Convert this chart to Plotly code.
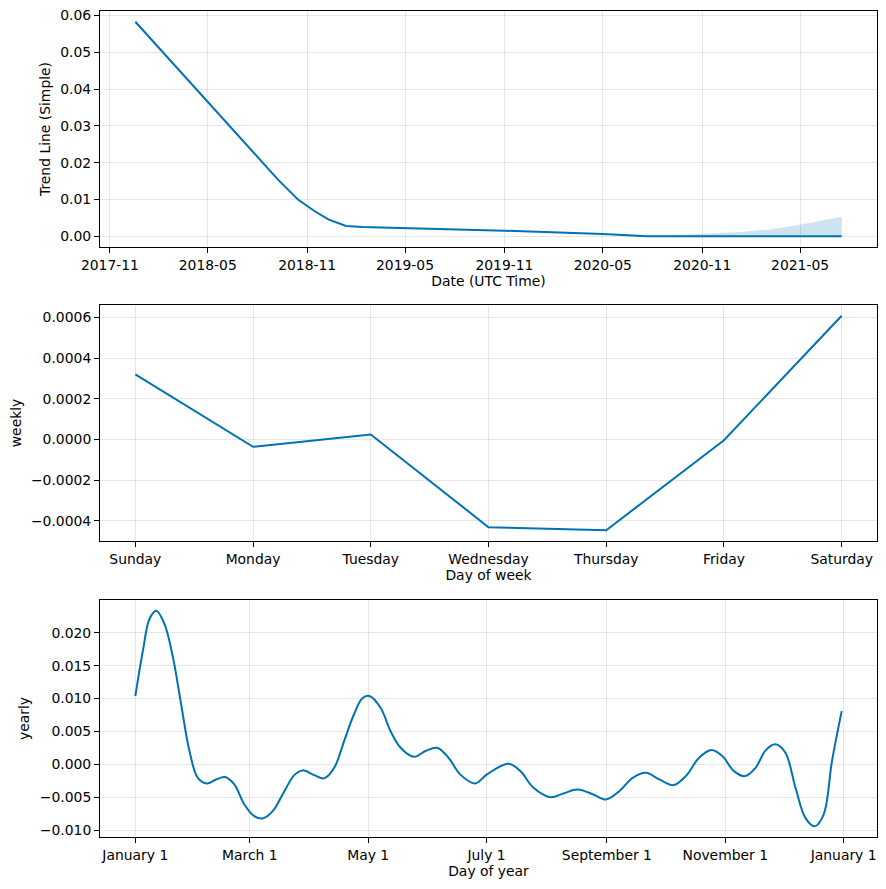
import pandas as pd
import plotly.graph_objects as go
from plotly.subplots import make_subplots

# ---------------- data ----------------
trend_dates = ["2017-12-18", "2018-09-08", "2018-10-15", "2018-11-15", "2018-12-11",
               "2019-01-12", "2019-02-11", "2019-05-01", "2019-11-01", "2020-05-01",
               "2020-07-23", "2021-07-17"]
trend_values = [0.0583, 0.0154, 0.0100, 0.0068, 0.0045,
                0.0028, 0.0025, 0.0022, 0.0015, 0.0006,
                0.0000, 0.0000]

band_dates = ["2020-07-23", "2020-11-01", "2021-01-04", "2021-03-04", "2021-05-01", "2021-07-17"]
band_upper = [0.0000, 0.00065, 0.0011, 0.0018, 0.0031, 0.0053]
band_lower = [0.0000, 0.0000, 0.0000, 0.0000, 0.0000, 0.0000]

weekdays = ["Sunday", "Monday", "Tuesday", "Wednesday", "Thursday", "Friday", "Saturday"]
weekly_values = [0.000320, -0.000036, 0.0000245, -0.000431, -0.000446, -0.000004, 0.000608]

year_days = [0, 3.9, 7.3, 10.8, 15.1, 19.4, 23.6, 27.9, 32.2, 36.9, 41.6, 46.2, 51.0,
             56.2, 61.3, 65.6, 70.8, 76.8, 81.9, 86.2, 92.2, 97.3, 102.5, 107.6, 112.7,
             117.0, 120.6, 126.4, 131.5, 136.7, 143.5, 149.5, 155.5, 161.4, 167.4, 175.1,
             181.2, 192.3, 198.4, 205.2, 213.8, 220.6, 227.8, 236.0, 242.5, 249.4, 256.3,
             263.1, 270.0, 277.3, 283.7, 290.5, 297.0, 302.5, 308.5, 314.1, 319.6, 324.8,
             329.9, 335.0, 340.2, 345.3, 350.1, 354.7, 359.0, 364]
yearly_values = [0.0104, 0.01725, 0.0221, 0.02335, 0.0213, 0.01624, 0.00914, 0.00203,
                 -0.00204, -0.0029, -0.00229, -0.00193, -0.00305, -0.00609, -0.00787,
                 -0.00822, -0.00711, -0.00407, -0.00163, -0.00091, -0.00163, -0.00213,
                 -0.00052, 0.00355, 0.00762, 0.01005, 0.0104, 0.00862, 0.00507, 0.00253,
                 0.00116, 0.00203, 0.00253, 0.00101, -0.00152, -0.0029, -0.00152, 0.0001,
                 -0.00102, -0.00356, -0.00498, -0.00442, -0.00381, -0.00457, -0.00533,
                 -0.00407, -0.00204, -0.00128, -0.00229, -0.00315, -0.00178, 0.00101,
                 0.00218, 0.00126, -0.00102, -0.00178, -0.00052, 0.00213, 0.00305,
                 0.00177, -0.00356, -0.00813, -0.0094, -0.00762, 0.0005, 0.0081]

yearly_tick_dates = ["2017-01-01", "2017-03-01", "2017-05-01", "2017-07-01",
                     "2017-09-01", "2017-11-01", "2018-01-01"]
yearly_tick_labels = ["January 1", "March 1", "May 1", "July 1",
                      "September 1", "November 1", "January 1"]

# ---------------- figure ----------------
BLUE = "#0072B2"
BAND = "rgba(0,114,178,0.2)"
GRID = "rgba(128,128,128,0.2)"
FONT = "DejaVu Sans"
FS = 13.9

fig = make_subplots(rows=3, cols=1)

t_dates = pd.to_datetime(trend_dates)
b_dates = pd.to_datetime(band_dates)
fig.add_trace(go.Scatter(x=t_dates, y=trend_values, mode="lines",
                         line=dict(color=BLUE, width=2), showlegend=False), row=1, col=1)
fig.add_trace(go.Scatter(x=b_dates, y=band_upper, mode="lines",
                         line=dict(width=0, color=BAND), showlegend=False), row=1, col=1)
fig.add_trace(go.Scatter(x=b_dates, y=band_lower, mode="lines", fill="tonexty",
                         fillcolor=BAND, line=dict(width=0, color=BAND),
                         showlegend=False), row=1, col=1)

fig.add_trace(go.Scatter(x=list(range(len(weekdays))), y=weekly_values, mode="lines",
                         line=dict(color=BLUE, width=2), showlegend=False), row=2, col=1)

y_dates = pd.Timestamp("2017-01-01") + pd.to_timedelta(year_days, unit="D")
fig.add_trace(go.Scatter(x=y_dates, y=yearly_values, mode="lines",
                         line=dict(color=BLUE, width=2, shape="spline", smoothing=1.0),
                         showlegend=False), row=3, col=1)

def pad_range(lo, hi, frac=0.05):
    span = hi - lo
    return [lo - frac * span, hi + frac * span]

t0, t1 = t_dates.min(), t_dates.max()
tspan = t1 - t0
y0, y1 = y_dates.min(), y_dates.max()
yspan = y1 - y0

common_axis = dict(showline=True, linecolor="black", linewidth=1, mirror=True,
                   ticks="outside", ticklen=5, tickcolor="black", tickwidth=1,
                   showgrid=True, gridcolor=GRID, gridwidth=1, zeroline=False,
                   automargin=False, ticklabeloverflow="allow",
                   tickfont=dict(family=FONT, size=FS, color="black"))
title_font = dict(family=FONT, size=FS, color="black")

# the page body adds an 8px offset, so the figure is sized/margined to compensate
fig.update_layout(
    width=878, height=881,
    margin=dict(l=92, r=9, t=3, b=52),
    plot_bgcolor="white", paper_bgcolor="white",
    font=dict(family=FONT, size=FS, color="black"),
    xaxis=dict(common_axis, domain=[0, 1], type="date",
               range=[t0 - 0.05 * tspan, t1 + 0.05 * tspan],
               tick0="2017-11-01", dtick="M6", tickformat="%Y-%m",
               title=dict(text="Date (UTC Time)", font=title_font, standoff=4)),
    yaxis=dict(common_axis, domain=[0.7143, 1.0],
               range=pad_range(0.0, 0.0583), dtick=0.01, tickformat=".2f",
               title=dict(text="Trend Line (Simple)", font=title_font, standoff=6)),
    xaxis2=dict(common_axis, domain=[0, 1],
                range=pad_range(0, len(weekdays) - 1),
                tickvals=list(range(len(weekdays))), ticktext=weekdays,
                title=dict(text="Day of week", font=title_font, standoff=4)),
    yaxis2=dict(common_axis, domain=[0.3584, 0.6441],
                range=pad_range(min(weekly_values), max(weekly_values)),
                dtick=0.0002, tickformat=".4f",
                title=dict(text="weekly", font=title_font, standoff=6)),
    xaxis3=dict(common_axis, domain=[0, 1], type="date",
                range=[y0 - 0.05 * yspan, y1 + 0.05 * yspan],
                tickvals=pd.to_datetime(yearly_tick_dates), ticktext=yearly_tick_labels,
                title=dict(text="Day of year", font=title_font, standoff=4)),
    yaxis3=dict(common_axis, domain=[0.0, 0.2869],
                range=pad_range(min(yearly_values), max(yearly_values)),
                dtick=0.005, tickformat=".3f",
                title=dict(text="yearly", font=title_font, standoff=6)),
)

fig.write_html("out.html")
